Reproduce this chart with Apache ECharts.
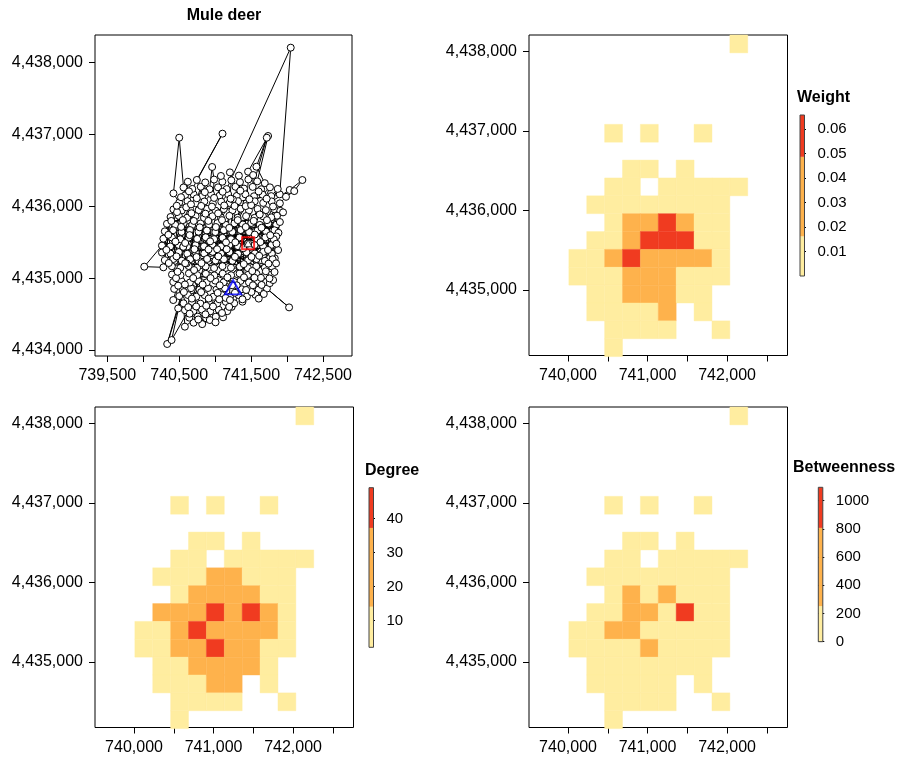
<!DOCTYPE html>
<html>
<head>
<meta charset="utf-8">
<script src="https://cdn.jsdelivr.net/npm/echarts@6/dist/echarts.min.js"></script>
<style>
  html, body { margin: 0; padding: 0; background: #fff; }
  #main { width: 901px; height: 764px; }
</style>
</head>
<body>
<div id="main"></div>
<script>
// GPS fixes of the mule deer, in visiting order [easting, northing]
const deerTrack = [
  [741458,4435483],[741385,4435745],[741338,4435160],[741198,4435462],[741620,4435740],[741102,4435166],
  [741668,4435440],[741150,4435740],[741572,4435165],[740962,4435465],[741850,4435742],[740868,4435162],
  [741875,4435390],[740915,4435742],[741790,4435160],[740728,4435460],[741738,4435758],[740632,4435168],
  [741785,4435462],[740680,4435738],[741690,4435145],[740492,4435462],[741502,4435766],[740398,4435165],
  [741550,4435460],[740445,4435740],[741455,4435140],[740260,4435452],[740014,4435159],[740280,4435150],
  [740330,4435755],[740375,4435440],[740515,4435142],[740562,4435762],[740610,4435438],[740750,4435145],
  [740798,4435760],[740845,4435442],[740985,4435140],[741032,4435765],[741080,4435440],[741220,4435145],
  [741268,4435762],[741315,4435445],[741900,4435780],
  [740300,4435650],[740495,4435362],[740535,4435940],[740415,4435665],[740260,4435355],[740420,4435955],
  [740650,4435668],[740730,4435360],[740650,4435965],[740532,4435642],[740378,4435340],[740770,4435945],
  [740885,4435662],[740612,4435338],[740888,4435962],[740768,4435645],[740965,4435365],[741005,4435938],
  [741120,4435665],[740848,4435342],[741120,4435960],[741002,4435640],[741200,4435362],[741240,4435942],
  [741355,4435668],[741082,4435340],[741355,4435965],[741238,4435644],[741435,4435360],[741470,4435940],
  [741590,4435662],[741318,4435338],[741590,4435962],[741472,4435640],[741670,4435365],[741705,4435945],
  [741825,4435665],[741552,4435342],[741822,4435958],[741708,4435646],[741829,4435275],[741905,4435935],
  [741880,4435630],[741788,4435340],
  [741850,4435580],[741692,4435240],[741860,4435868],[741698,4435566],[741800,4435262],[741665,4435860],
  [741815,4435540],[741458,4435248],[741780,4435845],[741580,4435548],[741575,4435265],[741548,4435838],
  [741338,4435565],[741430,4435862],[741343,4435160],[741220,4435540],[741312,4435840],[741240,4435240],
  [741102,4435560],[741198,4435866],[741122,4435262],[740985,4435542],[741080,4435842],[741005,4435245],
  [740868,4435568],[740962,4435860],[740888,4435266],[740750,4435545],[740845,4435838],[740770,4435240],
  [740632,4435562],[740728,4435862],[740652,4435262],[740515,4435540],[740610,4435840],[740535,4435242],
  [740398,4435565],[740495,4435865],[740418,4435265],[740280,4435548],[740380,4435850],[740300,4435250],
  [740556,4435435],[740602,4435205],[740556,4435435],
  [740500,4436050],[740420,4436178],[740500,4436952],[740560,4436260],[740580,4436150],[740620,4436340],
  [740615,4436070],[740700,4436165],[740682,4436240],[741102,4437008],[740745,4436365],[740820,4436140],
  [740730,4436040],[740800,4436270],[740862,4436330],[740850,4436065],[740942,4436170],[740922,4436235],
  [740958,4436545],[740985,4436370],[740968,4436038],[741060,4436145],[741040,4436262],[741100,4436340],
  [741080,4436420],[741085,4436062],[741180,4436168],[741160,4436238],[742051,4438204],[741898,4436165],
  [741200,4436045],[741225,4436360],[741205,4436470],[741283,4436270],[741300,4436142],[741318,4436070],
  [741345,4436335],[741330,4436425],[741400,4436245],[741420,4436165],[741435,4436040],[741462,4436372],
  [741458,4436480],[741736,4436976],[741585,4436345],[741528,4436433],[741522,4436268],[741718,4436952],
  [741574,4436549],[741690,4436320],[741640,4436235],[741540,4436138],[741550,4436068],[741660,4436160],
  [741762,4436262],[741668,4436045],[741780,4436140],[741870,4436240],[741785,4436066],[742037,4436225],
  [742213,4436364],[742100,4436210],[741985,4436130],[741900,4436040],[741944,4435914],
  [740870,4435060],[740765,4434962],[740900,4434862],[740620,4434765],[740795,4434645],[740698,4434540],
  [740875,4434442],[740700,4434380],[740640,4434450],[740580,4434555],[740486,4434579],[740333,4434084],
  [740548,4434835],[740394,4434139],[740738,4434742],[740678,4434668],[740815,4434562],[740758,4434465],
  [740579,4434325],[740560,4434650],[740500,4434750],[740430,4434850],[740417,4434945],[740400,4435050],
  [740530,4434960],[740665,4434860],[740518,4435040],[740417,4434695],[740648,4434938],[740782,4434838],
  [740635,4435065],[740855,4434762],[740912,4434665],[740932,4434538],[740926,4434417],[740820,4434360],
  [741009,4434463],[741050,4434560],[741030,4434648],[740972,4434740],[741018,4434840],[740882,4434940],
  [740752,4435042],[741000,4434965],[741135,4434860],[741090,4434765],[741148,4434670],[741168,4434540],
  [741110,4434455],[741230,4434600],[741208,4434745],[741265,4434650],[741370,4434845],[741118,4434942],
  [741343,4435160],[740988,4435038],[741105,4435062],[741352,4434960],[741325,4434765],[741380,4434672],
  [741488,4434865],[741343,4435160],[741222,4435040],[741470,4434940],[741442,4434745],[741605,4434840],
  [741340,4435065],[741588,4434962],[742028,4434593],[741720,4434855],[741458,4435045],[741705,4434945],
  [741343,4435160],[741560,4434768],[741676,4434779],[741760,4434930],[741575,4435060],[741692,4435040],
  [741806,4434973],
  [740583,4435488],[740712,4435402],[740645,4435598],[740448,4435508],[740527,4435712],[740703,4435795],
  [740598,4435985],[740470,4435918],[740349,4435602],[740322,4435392],
  [740456,4435000],[740579,4434911],[740695,4435000],[740826,4434910],[740936,4435000],[741064,4434899],
  [741171,4435010],[741300,4434900],
  [740462,4435302],[740355,4435210],[740478,4435088],[740583,4435207],[740707,4435112],[740810,4435208],
  [740741,4435294],[740908,4435398],[741027,4435402],[740930,4435511],[741151,4435497],[741044,4435302],
  [741275,4435296],[741160,4435401],[741390,4435415],
  [741401,4435011],[741525,4434900],[741646,4434905],[741755,4434996],[741606,4434715],[741505,4434806],
  [741380,4434705],[741275,4434796],[741146,4434725],[741035,4434795],[740910,4434716],[740805,4434805],
  [741280,4435498],[741505,4435295],[741398,4435195],[741612,4435310],[741516,4435098],[741742,4435201],
  [741636,4435004],[741847,4435205],[741735,4435391],[741852,4435478],[741630,4435501],[741766,4435596],
  [741551,4435605],[741645,4435700],[741425,4435711],[741536,4435796],[741314,4435806],[741424,4436001],
  [741196,4435698],[741095,4435806],
  [740676,4434715],[740565,4434806],[740486,4434895],[740625,4434596],[740736,4434605],[740865,4434496],
  [740970,4434605],[741095,4434515],[741206,4434695],[741195,4434600],
  [741246,4436095],[741010,4435710],[740905,4435795],[741126,4436010],[740785,4435706],[740865,4435896],
  [740670,4435902],[740955,4435994],[740806,4436004],[741041,4435900],[741270,4436003],[741500,4436015],
  [741620,4435885],[741720,4435806],[741805,4435995],[741716,4436104],[741605,4436205],[741476,4436096],
  [741350,4436215],[741215,4436104],[741104,4436200],[740985,4436115],[740856,4436195],[740744,4436110],
  [740636,4436206],[740525,4436125],[740466,4436006],[740664,4436025],[740550,4435806],[740390,4435795],
  [741005,4434385],[740765,4434425],[740645,4434505],[740876,4434615],[741056,4434705],[741236,4434900],
  [741546,4435005],[741430,4434835],[741705,4435095],[741826,4435085]
];
const startFix = [741458, 4435483];
const endFix = [741250, 4434871];

// raster cells, 18 rows (north to south) x 10 columns (west to east), null = no fix
const weightGrid = [
  [null,null,null,null,null,null,null,null,null,0.002],
  [null,null,null,null,null,null,null,null,null,null],
  [null,null,null,null,null,null,null,null,null,null],
  [null,null,null,null,null,null,null,null,null,null],
  [null,null,null,null,null,null,null,null,null,null],
  [null,null,0.002,null,0.002,null,null,0.003,null,null],
  [null,null,null,null,null,null,null,null,null,null],
  [null,null,null,0.004,0.003,null,0.002,null,null,null],
  [null,null,0.005,0.008,null,0.006,0.009,0.004,0.003,0.002],
  [null,0.003,0.008,0.012,0.014,0.013,0.011,0.009,0.004,null],
  [null,null,0.007,0.024,0.031,0.058,0.027,0.012,0.006,null],
  [null,0.004,0.013,0.035,0.052,0.065,0.055,0.014,0.007,null],
  [0.003,0.009,0.022,0.051,0.043,0.040,0.029,0.019,0.008,null],
  [0.002,0.010,0.015,0.038,0.045,0.033,0.014,0.011,0.005,null],
  [null,0.006,0.012,0.026,0.036,0.028,0.013,0.006,null,null],
  [null,0.003,0.009,0.011,0.014,0.021,null,0.003,null,null],
  [null,null,0.004,0.007,0.008,0.005,null,null,0.002,null],
  [null,null,0.002,null,null,null,null,null,null,null]
];
const degreeGrid = [
  [null,null,null,null,null,null,null,null,null,2],
  [null,null,null,null,null,null,null,null,null,null],
  [null,null,null,null,null,null,null,null,null,null],
  [null,null,null,null,null,null,null,null,null,null],
  [null,null,null,null,null,null,null,null,null,null],
  [null,null,2,null,3,null,null,2,null,null],
  [null,null,null,null,null,null,null,null,null,null],
  [null,null,null,5,4,null,3,null,null,null],
  [null,null,6,9,null,8,11,6,4,2],
  [null,4,9,12,19,17,13,10,5,null],
  [null,null,8,24,29,34,22,12,7,null],
  [null,15,18,31,41,36,39,20,9,null],
  [4,11,26,44,35,33,27,16,8,null],
  [3,10,21,30,49,32,18,11,6,null],
  [null,7,13,23,28,25,16,7,null,null],
  [null,4,10,12,17,19,null,3,null,null],
  [null,null,5,8,9,6,null,null,2,null],
  [null,null,2,null,null,null,null,null,null,null]
];
const betweenGrid = [
  [null,null,null,null,null,null,null,null,null,0],
  [null,null,null,null,null,null,null,null,null,null],
  [null,null,null,null,null,null,null,null,null,null],
  [null,null,null,null,null,null,null,null,null,null],
  [null,null,null,null,null,null,null,null,null,null],
  [null,null,0,null,0,null,null,0,null,null],
  [null,null,null,null,null,null,null,null,null,null],
  [null,null,null,12,5,null,0,null,null,null],
  [null,null,25,60,null,40,110,30,15,0],
  [null,8,70,140,180,120,95,160,20,null],
  [null,null,45,420,210,560,150,90,35,null],
  [null,30,190,480,610,230,1090,140,60,null],
  [10,120,380,650,220,170,200,110,40,null],
  [5,80,150,230,520,200,130,75,25,null],
  [null,35,90,160,210,180,100,20,null,null],
  [null,10,50,70,140,120,null,0,null,null],
  [null,null,15,40,60,30,null,null,0,null],
  [null,null,0,null,null,null,null,null,null,null]
];

// class limits of the three colour bins (low, two breaks, high)
const weightBreaks = [0, 0.0162, 0.0487, 0.0658];
const degreeBreaks = [2.2, 14.1, 37.2, 49.0];
const betweenBreaks = [0, 252, 807, 1095];

// ticks
const deerXTicks = [739500, 740000, 740500, 741000, 741500, 742000, 742500];
const deerXLabels = [739500, 740500, 741500, 742500];
const deerYTicks = [4434000, 4435000, 4436000, 4437000, 4438000];
const mapXTicks = [740000, 740500, 741000, 741500, 742000, 742500];
const mapXLabels = [740000, 741000, 742000];
const mapYTicks = [4435000, 4436000, 4437000, 4438000];
const weightTicks = [0.01, 0.02, 0.03, 0.04, 0.05, 0.06];
const degreeTicks = [10, 20, 30, 40];
const betweenTicks = [0, 200, 400, 600, 800, 1000];

// raster geometry
const CELL = 225;
const GRID_E0 = 740010;
const GRID_N0 = 4438210;

const FONT = '"Liberation Sans", Arial, Helvetica, sans-serif';
const COLORS = ['#FFEDA0', '#FEB24C', '#F03B20'];

const chart = echarts.init(document.getElementById('main'), null, { renderer: 'canvas' });

function comma(v) {
  return String(v).replace(/\B(?=(\d{3})+(?!\d))/g, ',');
}

function binColor(v, breaks) {
  if (v < breaks[1]) return COLORS[0];
  if (v < breaks[2]) return COLORS[1];
  return COLORS[2];
}

// grid -> [west edge, north edge, value]
function cellsOf(grid) {
  const out = [];
  grid.forEach((row, r) => {
    row.forEach((v, c) => {
      if (v !== null) out.push([GRID_E0 + c * CELL, GRID_N0 - r * CELL, v]);
    });
  });
  return out;
}

function mapAxis(gridIndex, min, max, ticks, labels) {
  return {
    type: 'value', gridIndex: gridIndex, min: min, max: max,
    axisLine: { show: false },
    splitLine: { show: false },
    axisTick: { show: true, length: 6, customValues: ticks, lineStyle: { color: '#000', width: 1 } },
    axisLabel: {
      customValues: labels, formatter: comma, fontSize: 16, color: '#000',
      fontFamily: FONT, margin: 12
    }
  };
}

function keyAxis(gridIndex, min, max, ticks, fmt) {
  return {
    type: 'value', gridIndex: gridIndex, min: min, max: max, position: 'right',
    axisLine: { show: false },
    splitLine: { show: false },
    axisTick: { show: true, length: 6, customValues: ticks, lineStyle: { color: '#000', width: 1 } },
    axisLabel: {
      customValues: ticks, formatter: fmt, fontSize: 15, color: '#000',
      fontFamily: FONT, margin: 13
    }
  };
}

function heatSeries(axisIndex, grid, breaks) {
  return {
    type: 'custom',
    xAxisIndex: axisIndex, yAxisIndex: axisIndex,
    data: cellsOf(grid),
    silent: true,
    renderItem: function (params, api) {
      const e0 = api.value(0), n0 = api.value(1), v = api.value(2);
      const p0 = api.coord([e0, n0]);
      const p1 = api.coord([e0 + CELL, n0 - CELL]);
      const col = binColor(v, breaks);
      return {
        type: 'rect',
        shape: { x: p0[0], y: p0[1], width: p1[0] - p0[0], height: p1[1] - p0[1] },
        style: { fill: col, stroke: col, lineWidth: 0.4 }
      };
    }
  };
}

function keySeries(axisIndex, breaks) {
  const segs = [
    [breaks[0], breaks[1], 0],
    [breaks[1], breaks[2], 1],
    [breaks[2], breaks[3], 2],
    [breaks[0], breaks[3], -1]
  ];
  return {
    type: 'custom',
    xAxisIndex: axisIndex, yAxisIndex: axisIndex,
    data: segs,
    silent: true,
    renderItem: function (params, api) {
      const lo = api.value(0), hi = api.value(1), k = api.value(2);
      const p0 = api.coord([0, hi]);
      const p1 = api.coord([1, lo]);
      const shape = { x: p0[0], y: p0[1], width: p1[0] - p0[0], height: p1[1] - p0[1] };
      if (k < 0) {
        return { type: 'rect', shape: shape, z2: 10, style: { fill: 'transparent', stroke: '#444', lineWidth: 1 } };
      }
      return { type: 'rect', shape: shape, style: { fill: COLORS[k] } };
    }
  };
}

const boxStyle = { show: true, borderColor: '#000', borderWidth: 1, backgroundColor: 'transparent' };
const hiddenX = (gi) => ({ type: 'value', gridIndex: gi, min: 0, max: 1, show: false });

const option = {
  animation: false,
  backgroundColor: '#fff',
  textStyle: { fontFamily: FONT },
  grid: [
    Object.assign({ left: 95, top: 35, width: 257, height: 321 }, boxStyle),
    Object.assign({ left: 529, top: 35, width: 258.5, height: 320.5 }, boxStyle),
    Object.assign({ left: 95, top: 407, width: 258.5, height: 320.5 }, boxStyle),
    Object.assign({ left: 529, top: 407, width: 258.5, height: 320.5 }, boxStyle),
    { left: 800, top: 115, width: 4.5, height: 161 },
    { left: 369, top: 487.7, width: 4.5, height: 159.6 },
    { left: 818.3, top: 487.3, width: 4.5, height: 154.4 }
  ],
  xAxis: [
    mapAxis(0, 739329, 742903, deerXTicks, deerXLabels),
    mapAxis(1, 739509, 742760, mapXTicks, mapXLabels),
    mapAxis(2, 739509, 742760, mapXTicks, mapXLabels),
    mapAxis(3, 739509, 742760, mapXTicks, mapXLabels),
    hiddenX(4), hiddenX(5), hiddenX(6)
  ],
  yAxis: [
    mapAxis(0, 4433917, 4438380, deerYTicks, deerYTicks),
    mapAxis(1, 4434174, 4438210, mapYTicks, mapYTicks),
    mapAxis(2, 4434174, 4438210, mapYTicks, mapYTicks),
    mapAxis(3, 4434174, 4438210, mapYTicks, mapYTicks),
    keyAxis(4, weightBreaks[0], weightBreaks[3], weightTicks, v => v.toFixed(2)),
    keyAxis(5, degreeBreaks[0], degreeBreaks[3], degreeTicks, v => String(v)),
    keyAxis(6, betweenBreaks[0], betweenBreaks[3], betweenTicks, v => String(v))
  ],
  series: [
    {
      type: 'line',
      xAxisIndex: 0, yAxisIndex: 0,
      data: deerTrack,
      symbol: 'circle', symbolSize: 7, showAllSymbol: true,
      lineStyle: { color: '#000', width: 1 },
      itemStyle: { color: '#fff', borderColor: '#000', borderWidth: 1 },
      silent: true
    },
    {
      type: 'scatter', xAxisIndex: 0, yAxisIndex: 0, z: 3,
      data: [startFix], symbol: 'triangle', symbolSize: [8, 7],
      itemStyle: { color: '#fff', borderColor: '#000', borderWidth: 1 }, silent: true
    },
    {
      type: 'scatter', xAxisIndex: 0, yAxisIndex: 0, z: 4,
      data: [startFix], symbol: 'rect', symbolSize: 12,
      itemStyle: { color: 'transparent', borderColor: '#ff0000', borderWidth: 2 }, silent: true
    },
    {
      type: 'scatter', xAxisIndex: 0, yAxisIndex: 0, z: 4,
      data: [endFix], symbol: 'triangle', symbolSize: [16, 14],
      itemStyle: { color: 'transparent', borderColor: '#0000ff', borderWidth: 2 }, silent: true
    },
    heatSeries(1, weightGrid, weightBreaks),
    heatSeries(2, degreeGrid, degreeBreaks),
    heatSeries(3, betweenGrid, betweenBreaks),
    keySeries(4, weightBreaks),
    keySeries(5, degreeBreaks),
    keySeries(6, betweenBreaks)
  ],
  graphic: [
    { type: 'text', x: 224, y: 16, style: { text: 'Mule deer', font: 'bold 16px ' + FONT, fill: '#000', textAlign: 'center', textVerticalAlign: 'middle' } },
    { type: 'text', x: 797, y: 98, style: { text: 'Weight', font: 'bold 16px ' + FONT, fill: '#000', textAlign: 'left', textVerticalAlign: 'middle' } },
    { type: 'text', x: 365, y: 471, style: { text: 'Degree', font: 'bold 16px ' + FONT, fill: '#000', textAlign: 'left', textVerticalAlign: 'middle' } },
    { type: 'text', x: 793, y: 468, style: { text: 'Betweenness', font: 'bold 16px ' + FONT, fill: '#000', textAlign: 'left', textVerticalAlign: 'middle' } }
  ]
};

chart.setOption(option);
</script>
</body>
</html>
